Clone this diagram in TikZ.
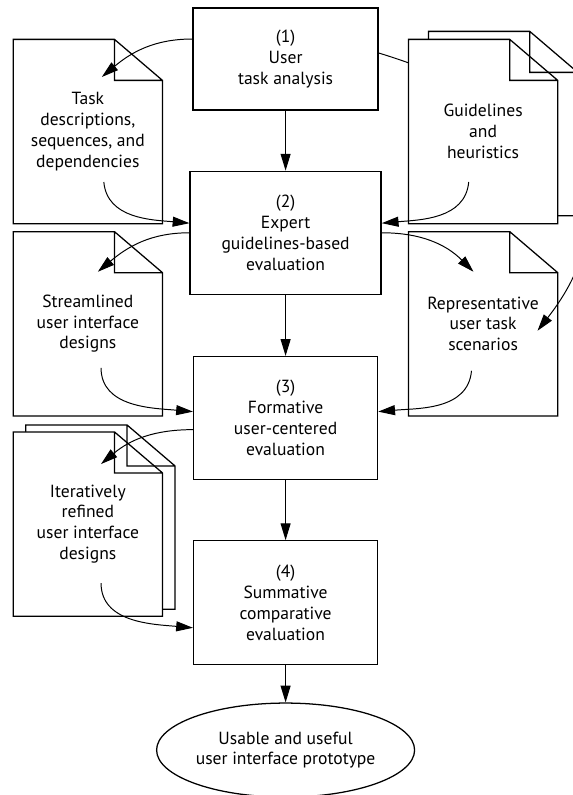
\documentclass[tikz,border=0pt]{standalone}
\usepackage{fontspec}
\setmainfont{PT Sans}
\usetikzlibrary{arrows.meta, positioning, shapes.geometric}

\newcommand{\boxfont}{\fontsize{12.5}{14.8}\selectfont}

% sheet of paper with a dog-eared top right corner
\makeatletter
\pgfdeclareshape{sheet}{%
  \inheritsavedanchors[from=rectangle]
  \inheritanchorborder[from=rectangle]
  \inheritanchor[from=rectangle]{center}
  \inheritanchor[from=rectangle]{north}
  \inheritanchor[from=rectangle]{south}
  \inheritanchor[from=rectangle]{east}
  \inheritanchor[from=rectangle]{west}
  \inheritanchor[from=rectangle]{north east}
  \inheritanchor[from=rectangle]{north west}
  \inheritanchor[from=rectangle]{south east}
  \inheritanchor[from=rectangle]{south west}
  \backgroundpath{%
    \southwest \pgf@xa=\pgf@x \pgf@ya=\pgf@y
    \northeast \pgf@xb=\pgf@x \pgf@yb=\pgf@y
    \pgf@xc=\pgf@xb \advance\pgf@xc by -1.2cm
    \pgf@yc=\pgf@yb \advance\pgf@yc by -1.025cm
    \pgfpathmoveto{\pgfqpoint{\pgf@xa}{\pgf@ya}}
    \pgfpathlineto{\pgfqpoint{\pgf@xa}{\pgf@yb}}
    \pgfpathlineto{\pgfqpoint{\pgf@xc}{\pgf@yb}}
    \pgfpathlineto{\pgfqpoint{\pgf@xb}{\pgf@yc}}
    \pgfpathlineto{\pgfqpoint{\pgf@xb}{\pgf@ya}}
    \pgfpathclose
    % the crease
    \pgfpathmoveto{\pgfqpoint{\pgf@xc}{\pgf@yb}}
    \pgfpathlineto{\pgfqpoint{\pgf@xc}{\pgf@yc}}
    \pgfpathlineto{\pgfqpoint{\pgf@xb}{\pgf@yc}}
  }%
}
\makeatother

\begin{document}
\begin{tikzpicture}[
    stage/.style={rectangle, draw, line width=0.9pt, fill=white,
                  minimum width=4.6cm, minimum height=3.075cm, align=center, font=\boxfont},
    page/.style={sheet, draw, line width=0.9pt, fill=white, inner sep=0pt,
                 minimum width=3.7cm, minimum height=4.575cm, align=center, font=\boxfont},
    outcome/.style={ellipse, draw, line width=0.9pt, inner sep=0pt,
                    minimum width=6.45cm, minimum height=2.35cm, align=center, font=\boxfont},
    flow/.style={-{Triangle[length=0.42cm,width=0.25cm]}, line width=0.7pt},
]
    \useasboundingbox (0,0) rectangle (14.325,-19.875);

    % main process
    \node[stage, minimum height=2.55cm, minimum width=4.625cm] (analysis) at (7.14,-1.475)
        {(1)\\User\\task analysis};
    \node[stage, minimum width=4.775cm, below=1.5cm of analysis] (expert)
        {(2)\\Expert\\guidelines-based\\evaluation};
    \node[stage, below=1.525cm of expert] (formative)
        {(3)\\Formative\\user-centered\\evaluation};
    \node[stage, minimum height=3.1cm, below=1.5cm of formative] (summative)
        {(4)\\Summative\\comparative\\evaluation};
    \node[outcome, below=0.925cm of summative] (prototype)
        {Usable and useful\\user interface prototype};

    % work products
    \node[page, below left=0.8cm and 0.75cm of analysis.north west] (tasks)
        {Task\\descriptions,\\sequences, and\\dependencies};
    \node[page, below=0.2cm of tasks] (designs)
        {Streamlined\\user interface\\designs};
    \node[page, below=0.225cm of designs, xshift=0.3125cm] (iterback) {};
    \node[page, below=0.4cm of designs] (iterative)
        {Iteratively\\refined\\user interface\\designs};
    \node[page, right=6.15cm of designs] (scenarios)
        {Representative\\user task\\scenarios};

    % task analysis feeds the scenarios, running behind the guidelines
    \draw[flow] ([yshift=0.15cm]analysis.east)
        .. controls +(-17:2.7cm) and +(52:5.2cm) ..
        ([shift={(1.36cm,-0.175cm)}]scenarios.center);

    \node[page, right=6.65cm of tasks, yshift=0.2cm] (guidesback) {};
    \node[page, right=6.15cm of tasks] (guides)
        {Guidelines\\and\\heuristics};

    % sequence
    \draw[flow] (analysis) -- (expert);
    \draw[flow] (expert) -- (formative);
    \draw[flow] (formative) -- (summative);
    \draw[flow] (summative) -- (prototype);

    % inputs and outputs of each stage
    \draw[flow] ([yshift=0.5cm]analysis.west) to[out=180, in=40]
        ([shift={(0.35cm,1.3625cm)}]tasks.center);
    \draw[flow] ([shift={(0.4cm,-1.2625cm)}]tasks.center) to[out=-85, in=175]
        ([yshift=0.24cm]expert.west);
    \draw[flow] ([shift={(-0.36cm,-1.2625cm)}]guides.center) to[out=-95, in=5]
        ([yshift=0.24cm]expert.east);
    \draw[flow] (expert.west) to[out=180, in=40]
        ([shift={(0.25cm,1.3cm)}]designs.center);
    \draw[flow] (expert.east) to[out=0, in=135]
        ([shift={(-0.24cm,1.3cm)}]scenarios.center);
    \draw[flow] ([shift={(0.33cm,-1.1cm)}]designs.center) to[out=-90, in=175]
        ([yshift=0.16cm]formative.west);
    \draw[flow] ([shift={(-0.29cm,-1.175cm)}]scenarios.center) to[out=-95, in=5]
        ([yshift=0.16cm]formative.east);
    \draw[flow] ([yshift=-0.29cm]formative.west) to[out=180, in=40]
        ([shift={(0.33cm,1.5cm)}]iterative.center);
    \draw[flow] ([shift={(0.33cm,-1.475cm)}]iterative.center) to[out=-90, in=175]
        ([yshift=-0.625cm]summative.west);
\end{tikzpicture}
\end{document}
